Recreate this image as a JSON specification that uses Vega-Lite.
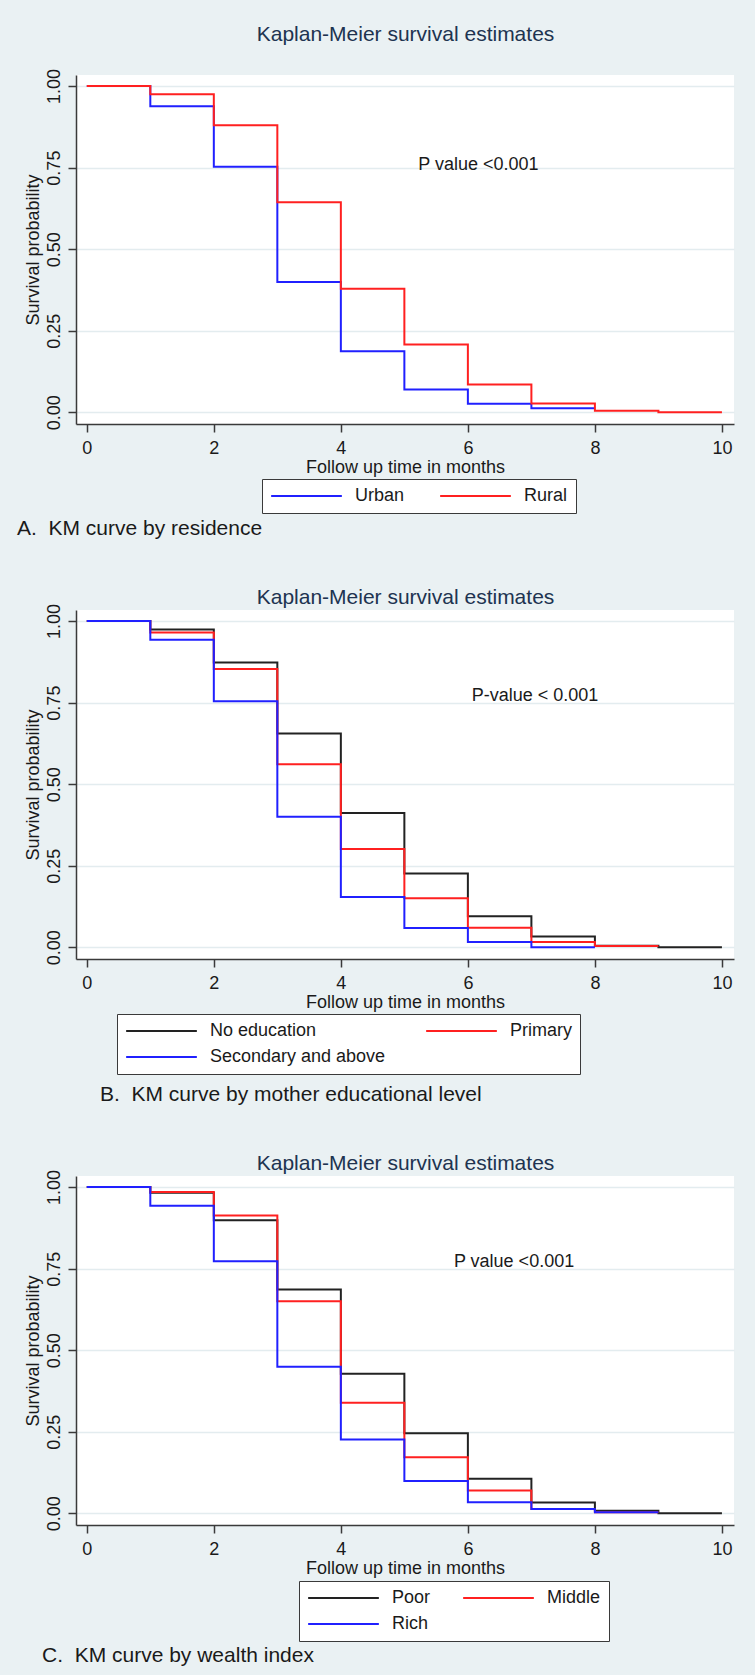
{
  "$schema": "https://vega.github.io/schema/vega-lite/v6.json",
  "background": "#EAF1F3",
  "padding": {"left": 17, "top": 23, "right": 21, "bottom": 13},
  "spacing": 47,
  "config": {
    "font": "Liberation Sans",
    "view": {"stroke": null, "fill": "white"},
    "axis": {
      "labelFont": "Liberation Sans", "titleFont": "Liberation Sans",
      "labelFontSize": 18, "titleFontSize": 18, "titleFontWeight": "normal",
      "labelColor": "#1a1a1a", "titleColor": "#1a1a1a",
      "domainColor": "#3a3a3a", "tickColor": "#3a3a3a", "domainWidth": 1.5, "tickWidth": 1.5,
      "tickSize": 8, "labelFlush": false, "labelOverlap": false,
      "gridColor": "#E3ECEF", "gridWidth": 1.5
    },
    "legend": {
      "direction": "horizontal", "columns": 2, "symbolType": "stroke", "symbolSize": 5000,
      "symbolStrokeWidth": 2, "clipHeight": 18, "labelFont": "Liberation Sans", "labelFontSize": 18,
      "labelColor": "#1a1a1a", "labelOffset": 12, "rowPadding": 8, "padding": 8,
      "strokeColor": "#3a3a3a", "fillColor": "white", "labelLimit": 400
    },
    "title": {"font": "Liberation Sans", "fontWeight": "normal", "color": "#1a1a1a"}
  },
  "resolve": {"scale": {"color": "independent", "x": "independent", "y": "independent"}, "legend": {"color": "independent"}},
  "vconcat": [
    {
      "width": 658, "height": 349,
      "title": {"text": "A.\u00a0\u00a0KM curve by residence", "orient": "bottom", "anchor": "start", "frame": "group", "dx": -59, "offset": 4, "fontSize": 21, "baseline": "top"},
      "resolve": {"axis": {"x": "independent", "y": "independent"}},
      "layer": [
        {
          "data": {"values": [
            {"t": 0, "s": 1, "g": "Urban"}, {"t": 1, "s": 0.938, "g": "Urban"}, {"t": 2, "s": 0.753, "g": "Urban"}, {"t": 3, "s": 0.399, "g": "Urban"}, {"t": 4, "s": 0.187, "g": "Urban"}, {"t": 5, "s": 0.070, "g": "Urban"}, {"t": 6, "s": 0.026, "g": "Urban"}, {"t": 7, "s": 0.012, "g": "Urban"}, {"t": 8, "s": 0.012, "g": "Urban"},
            {"t": 0, "s": 1, "g": "Rural"}, {"t": 1, "s": 0.975, "g": "Rural"}, {"t": 2, "s": 0.880, "g": "Rural"}, {"t": 3, "s": 0.644, "g": "Rural"}, {"t": 4, "s": 0.379, "g": "Rural"}, {"t": 5, "s": 0.208, "g": "Rural"}, {"t": 6, "s": 0.085, "g": "Rural"}, {"t": 7, "s": 0.027, "g": "Rural"}, {"t": 8, "s": 0.005, "g": "Rural"}, {"t": 9, "s": 0.0, "g": "Rural"}, {"t": 10, "s": 0.0, "g": "Rural"}
          ]},
          "mark": {"type": "line", "interpolate": "step-after", "strokeWidth": 2},
          "encoding": {
            "x": {"field": "t", "type": "quantitative", "scale": {"domain": [-0.17, 10.19], "nice": false, "zero": false},
                  "axis": {"orient": "bottom", "title": "Follow up time in months", "values": [0, 2, 4, 6, 8, 10], "grid": false, "labelPadding": 7, "titlePadding": 1}},
            "y": {"field": "s", "type": "quantitative", "scale": {"domain": [-0.036, 1.034], "nice": false, "zero": false},
                  "axis": {"orient": "left", "title": "Survival probability", "values": [0, 0.25, 0.5, 0.75, 1], "format": ".2f", "grid": true, "labelAngle": 270, "labelAlign": "center", "labelBaseline": "bottom", "labelPadding": 5, "titlePadding": 3}},
            "color": {"field": "g", "type": "nominal", "scale": {"domain": ["Urban", "Rural"], "range": ["#2020ff", "#ff2020"]},
                      "legend": {"title": null, "orient": "none", "legendX": 186, "legendY": 404, "columnPadding": 34}}
          }
        },
        {
          "data": {"values": [{"label": "P value <0.001"}]},
          "mark": {"type": "text", "align": "left", "baseline": "middle", "fontSize": 18, "color": "#1a1a1a"},
          "encoding": {
            "x": {"datum": 5.22, "type": "quantitative",
                  "axis": {"orient": "top", "title": "Kaplan-Meier survival estimates", "labels": false, "ticks": false, "domain": false, "grid": false, "titlePadding": 31, "titleFontSize": 21, "titleColor": "#203350"}},
            "y": {"datum": 0.758, "type": "quantitative", "axis": null},
            "text": {"field": "label"}
          }
        }
      ]
    },
    {
      "width": 658, "height": 349,
      "title": {"text": "B.\u00a0\u00a0KM curve by mother educational level", "orient": "bottom", "anchor": "start", "frame": "group", "dx": 24, "offset": 9, "fontSize": 21, "baseline": "top"},
      "resolve": {"axis": {"x": "independent", "y": "independent"}},
      "layer": [
        {
          "data": {"values": [
            {"t": 0, "s": 1, "g": "No education"}, {"t": 1, "s": 0.974, "g": "No education"}, {"t": 2, "s": 0.873, "g": "No education"}, {"t": 3, "s": 0.655, "g": "No education"}, {"t": 4, "s": 0.412, "g": "No education"}, {"t": 5, "s": 0.226, "g": "No education"}, {"t": 6, "s": 0.095, "g": "No education"}, {"t": 7, "s": 0.033, "g": "No education"}, {"t": 8, "s": 0.005, "g": "No education"}, {"t": 9, "s": 0.0, "g": "No education"}, {"t": 10, "s": 0.0, "g": "No education"},
            {"t": 0, "s": 1, "g": "Primary"}, {"t": 1, "s": 0.965, "g": "Primary"}, {"t": 2, "s": 0.853, "g": "Primary"}, {"t": 3, "s": 0.561, "g": "Primary"}, {"t": 4, "s": 0.301, "g": "Primary"}, {"t": 5, "s": 0.150, "g": "Primary"}, {"t": 6, "s": 0.060, "g": "Primary"}, {"t": 7, "s": 0.016, "g": "Primary"}, {"t": 8, "s": 0.004, "g": "Primary"}, {"t": 9, "s": 0.004, "g": "Primary"},
            {"t": 0, "s": 1, "g": "Secondary and above"}, {"t": 1, "s": 0.943, "g": "Secondary and above"}, {"t": 2, "s": 0.754, "g": "Secondary and above"}, {"t": 3, "s": 0.400, "g": "Secondary and above"}, {"t": 4, "s": 0.154, "g": "Secondary and above"}, {"t": 5, "s": 0.059, "g": "Secondary and above"}, {"t": 6, "s": 0.016, "g": "Secondary and above"}, {"t": 7, "s": 0.0, "g": "Secondary and above"}, {"t": 8, "s": 0.0, "g": "Secondary and above"}
          ]},
          "mark": {"type": "line", "interpolate": "step-after", "strokeWidth": 2},
          "encoding": {
            "x": {"field": "t", "type": "quantitative", "scale": {"domain": [-0.17, 10.19], "nice": false, "zero": false},
                  "axis": {"orient": "bottom", "title": "Follow up time in months", "values": [0, 2, 4, 6, 8, 10], "grid": false, "labelPadding": 7, "titlePadding": 1}},
            "y": {"field": "s", "type": "quantitative", "scale": {"domain": [-0.036, 1.034], "nice": false, "zero": false},
                  "axis": {"orient": "left", "title": "Survival probability", "values": [0, 0.25, 0.5, 0.75, 1], "format": ".2f", "grid": true, "labelAngle": 270, "labelAlign": "center", "labelBaseline": "bottom", "labelPadding": 5, "titlePadding": 3}},
            "color": {"field": "g", "type": "nominal", "scale": {"domain": ["No education", "Primary", "Secondary and above"], "range": ["#222222", "#ff2020", "#2020ff"]},
                      "legend": {"title": null, "orient": "none", "legendX": 41, "legendY": 404, "columnPadding": 39}}
          }
        },
        {
          "data": {"values": [{"label": "P-value < 0.001"}]},
          "mark": {"type": "text", "align": "left", "baseline": "middle", "fontSize": 18, "color": "#1a1a1a"},
          "encoding": {
            "x": {"datum": 6.06, "type": "quantitative",
                  "axis": {"orient": "top", "title": "Kaplan-Meier survival estimates", "labels": false, "ticks": false, "domain": false, "grid": false, "titlePadding": 3, "titleFontSize": 21, "titleColor": "#203350"}},
            "y": {"datum": 0.771, "type": "quantitative", "axis": null},
            "text": {"field": "label"}
          }
        }
      ]
    },
    {
      "width": 658, "height": 349,
      "title": {"text": "C.\u00a0\u00a0KM curve by wealth index", "orient": "bottom", "anchor": "start", "frame": "group", "dx": -34, "offset": 3, "fontSize": 21, "baseline": "top"},
      "resolve": {"axis": {"x": "independent", "y": "independent"}},
      "layer": [
        {
          "data": {"values": [
            {"t": 0, "s": 1, "g": "Poor"}, {"t": 1, "s": 0.983, "g": "Poor"}, {"t": 2, "s": 0.898, "g": "Poor"}, {"t": 3, "s": 0.686, "g": "Poor"}, {"t": 4, "s": 0.428, "g": "Poor"}, {"t": 5, "s": 0.245, "g": "Poor"}, {"t": 6, "s": 0.106, "g": "Poor"}, {"t": 7, "s": 0.033, "g": "Poor"}, {"t": 8, "s": 0.008, "g": "Poor"}, {"t": 9, "s": 0.0, "g": "Poor"}, {"t": 10, "s": 0.0, "g": "Poor"},
            {"t": 0, "s": 1, "g": "Middle"}, {"t": 1, "s": 0.985, "g": "Middle"}, {"t": 2, "s": 0.913, "g": "Middle"}, {"t": 3, "s": 0.650, "g": "Middle"}, {"t": 4, "s": 0.339, "g": "Middle"}, {"t": 5, "s": 0.172, "g": "Middle"}, {"t": 6, "s": 0.070, "g": "Middle"}, {"t": 7, "s": 0.013, "g": "Middle"}, {"t": 8, "s": 0.003, "g": "Middle"}, {"t": 9, "s": 0.003, "g": "Middle"},
            {"t": 0, "s": 1, "g": "Rich"}, {"t": 1, "s": 0.943, "g": "Rich"}, {"t": 2, "s": 0.773, "g": "Rich"}, {"t": 3, "s": 0.449, "g": "Rich"}, {"t": 4, "s": 0.226, "g": "Rich"}, {"t": 5, "s": 0.099, "g": "Rich"}, {"t": 6, "s": 0.034, "g": "Rich"}, {"t": 7, "s": 0.013, "g": "Rich"}, {"t": 8, "s": 0.003, "g": "Rich"}, {"t": 9, "s": 0.003, "g": "Rich"}
          ]},
          "mark": {"type": "line", "interpolate": "step-after", "strokeWidth": 2},
          "encoding": {
            "x": {"field": "t", "type": "quantitative", "scale": {"domain": [-0.17, 10.19], "nice": false, "zero": false},
                  "axis": {"orient": "bottom", "title": "Follow up time in months", "values": [0, 2, 4, 6, 8, 10], "grid": false, "labelPadding": 7, "titlePadding": 1}},
            "y": {"field": "s", "type": "quantitative", "scale": {"domain": [-0.036, 1.034], "nice": false, "zero": false},
                  "axis": {"orient": "left", "title": "Survival probability", "values": [0, 0.25, 0.5, 0.75, 1], "format": ".2f", "grid": true, "labelAngle": 270, "labelAlign": "center", "labelBaseline": "bottom", "labelPadding": 5, "titlePadding": 3}},
            "color": {"field": "g", "type": "nominal", "scale": {"domain": ["Poor", "Middle", "Rich"], "range": ["#222222", "#ff2020", "#2020ff"]},
                      "legend": {"title": null, "orient": "none", "legendX": 223, "legendY": 405, "columnPadding": 31}}
          }
        },
        {
          "data": {"values": [{"label": "P value <0.001"}]},
          "mark": {"type": "text", "align": "left", "baseline": "middle", "fontSize": 18, "color": "#1a1a1a"},
          "encoding": {
            "x": {"datum": 5.78, "type": "quantitative",
                  "axis": {"orient": "top", "title": "Kaplan-Meier survival estimates", "labels": false, "ticks": false, "domain": false, "grid": false, "titlePadding": 3, "titleFontSize": 21, "titleColor": "#203350"}},
            "y": {"datum": 0.771, "type": "quantitative", "axis": null},
            "text": {"field": "label"}
          }
        }
      ]
    }
  ]
}
